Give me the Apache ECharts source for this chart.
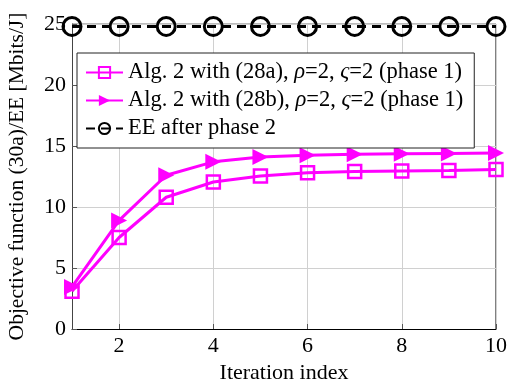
<!DOCTYPE html>
<html>
<head>
<meta charset="utf-8">
<script src="https://cdn.jsdelivr.net/npm/echarts@6/dist/echarts.min.js"></script>
<style>
  html, body { margin: 0; padding: 0; background: #fff; }
  #chart { width: 507px; height: 381px; }
</style>
</head>
<body>
<div id="chart"></div>
<script>
// iterations and values
const iterations = [1, 2, 3, 4, 5, 6, 7, 8, 9, 10]
const alg28a = [3.1, 7.5, 10.8, 12.05, 12.55, 12.8, 12.9, 12.95, 13.0, 13.08]
const alg28b = [3.45, 8.9, 12.6, 13.7, 14.1, 14.25, 14.33, 14.36, 14.39, 14.42]
const eeAfter = [24.8, 24.8, 24.8, 24.8, 24.8, 24.8, 24.8, 24.8, 24.8, 24.8]
const xTicks = [2, 4, 6, 8, 10]

const serif = 'Liberation Serif'
const magenta = '#ff00ff'

function pairs(ys) {
  return iterations.map((x, i) => [x, ys[i]])
}

const chart = echarts.init(document.getElementById('chart'))
chart.setOption({
  animation: false,
  textStyle: { fontFamily: serif },
  grid: { left: 72, right: 11, top: 24, bottom: 52, outerBoundsMode: 'none', containLabel: false },
  legend: {
    orient: 'vertical',
    left: 77,
    top: 53,
    padding: [8, 11, 8, 8],
    itemGap: 5,
    itemWidth: 37,
    itemHeight: 14,
    borderColor: '#222',
    borderWidth: 1,
    backgroundColor: '#fff',
    textStyle: {
      fontFamily: serif,
      fontSize: 22.5,
      color: '#000',
      rich: {
        i: { fontFamily: serif, fontStyle: 'italic', fontSize: 22.5, color: '#000' }
      }
    },
    formatter: name => {
      if (name === 'a') return 'Alg. 2 with (28a), {i|ρ}=2, {i|ς}=2 (phase 1)'
      if (name === 'b') return 'Alg. 2 with (28b), {i|ρ}=2, {i|ς}=2 (phase 1)'
      return 'EE after phase 2'
    },
    data: ['a', 'b', 'ee']
  },
  xAxis: {
    type: 'value',
    min: 1,
    max: 10,
    name: 'Iteration index',
    nameLocation: 'middle',
    nameGap: 33,
    nameTextStyle: { fontFamily: serif, fontSize: 22, color: '#000' },
    axisLine: { onZero: false, lineStyle: { color: '#000', width: 1 } },
    axisTick: { inside: true, length: 5, customValues: xTicks, lineStyle: { color: '#555' } },
    axisLabel: { customValues: xTicks, fontFamily: serif, fontSize: 22, color: '#000', margin: 6 },
    splitLine: { show: true, lineStyle: { color: '#d0d0d0', width: 1 } }
  },
  yAxis: {
    type: 'value',
    min: 0,
    max: 25,
    interval: 5,
    name: 'Objective function (30a)/EE [Mbits/J]',
    nameLocation: 'middle',
    nameGap: 44,
    nameTextStyle: { fontFamily: serif, fontSize: 21.5, color: '#000' },
    axisLine: { show: true, lineStyle: { color: '#444', width: 1 } },
    axisTick: { show: true, inside: true, length: 5, lineStyle: { color: '#555' } },
    axisLabel: { fontFamily: serif, fontSize: 22, color: '#000', margin: 6 },
    splitLine: { show: true, lineStyle: { color: '#d0d0d0', width: 1 } }
  },
  series: [
    {
      name: 'ee',
      type: 'line',
      data: pairs(eeAfter),
      z: 3,
      symbol: 'circle',
      symbolSize: 18,
      showAllSymbol: true,
      lineStyle: { color: '#000', width: 3, type: [9, 6] },
      itemStyle: { color: 'transparent', borderColor: '#000', borderWidth: 3 }
    },
    {
      name: 'a',
      type: 'line',
      data: pairs(alg28a),
      symbol: 'rect',
      symbolSize: 13,
      showAllSymbol: true,
      lineStyle: { color: magenta, width: 3 },
      itemStyle: { color: 'transparent', borderColor: magenta, borderWidth: 2.5 }
    },
    {
      name: 'b',
      type: 'line',
      data: pairs(alg28b),
      symbol: 'triangle',
      symbolRotate: -90,
      symbolSize: 16,
      showAllSymbol: true,
      lineStyle: { color: magenta, width: 3 },
      itemStyle: { color: magenta }
    }
  ],
  graphic: [
    // right and top frame of the axis box
    { type: 'line', shape: { x1: 496, y1: 24, x2: 496, y2: 329 }, style: { stroke: '#000', lineWidth: 1 } },
    { type: 'line', shape: { x1: 72, y1: 24, x2: 496, y2: 24 }, style: { stroke: '#777', lineWidth: 1 }, z: -1 }
  ]
})
</script>
</body>
</html>
